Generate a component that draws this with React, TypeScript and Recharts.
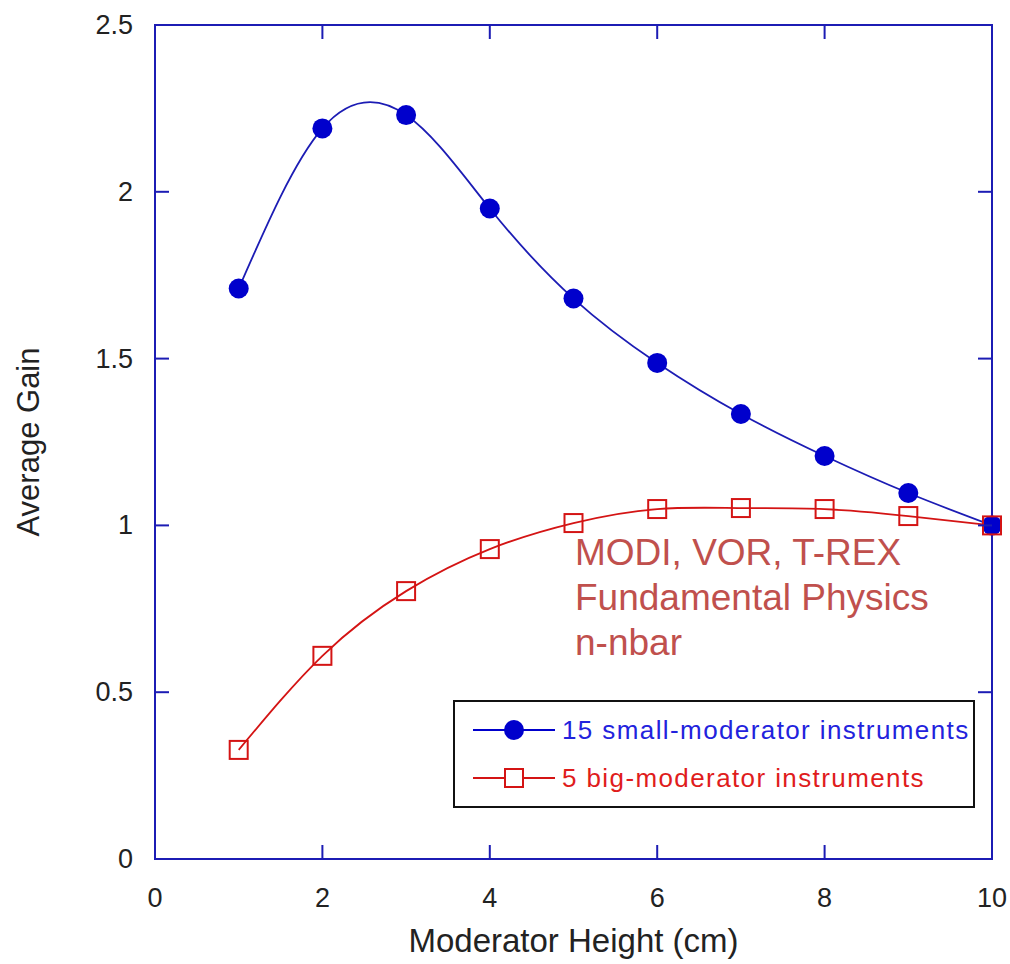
import React from 'react'
import { LineChart, Line, XAxis, YAxis, Legend, ReferenceArea } from 'recharts'

// Moderator height (cm)
const heights = [1, 2, 3, 4, 5, 6, 7, 8, 9, 10]
// Average gain, 15 small-moderator instruments
const smallModerator = [1.71, 2.19, 2.23, 1.95, 1.68, 1.487, 1.334, 1.208, 1.097, 1.0]
// Average gain, 5 big-moderator instruments
const bigModerator = [0.327, 0.609, 0.803, 0.929, 1.007, 1.049, 1.052, 1.049, 1.028, 1.0]

const xTicks = [0, 2, 4, 6, 8, 10]
const yTicks = [0, 0.5, 1, 1.5, 2, 2.5]
const annotation = ['MODI, VOR, T-REX', 'Fundamental Physics', 'n-nbar']

const FONT = '"Liberation Sans", Arial, Helvetica, sans-serif'
const FRAME = '#1c1cb4'
const BLUE = '#0000cc'
const RED = '#d41414'

// chart layout
const W = 1010
const H = 964
const PLOT_LEFT = 155
const PLOT_RIGHT = 992
const PLOT_TOP = 25
const PLOT_BOTTOM = 859
const TICK_LEN = 14
const X_TICK_GAP = 28
const Y_TICK_GAP = 22

const chartData = heights.map((h, i) => ({
  height: h,
  small: smallModerator[i],
  big: bigModerator[i],
}))

const legendItems = [
  { label: '15 small-moderator instruments', color: BLUE, textColor: '#2222dd', marker: 'circle' },
  { label: '5 big-moderator instruments', color: RED, textColor: '#e01c1c', marker: 'square' },
]

// bottom tick: label plus inward tick marks on bottom and top edges
const XTick = (props: any) => {
  const { x, y, payload } = props
  const inner = payload.value !== 0 && payload.value !== 10
  return (
    <g>
      {inner && <line x1={x} x2={x} y1={PLOT_BOTTOM} y2={PLOT_BOTTOM - TICK_LEN} stroke={FRAME} strokeWidth={2} />}
      {inner && <line x1={x} x2={x} y1={PLOT_TOP} y2={PLOT_TOP + TICK_LEN} stroke={FRAME} strokeWidth={2} />}
      <text x={x} y={y} dy={20} textAnchor="middle" fill="#222" fontSize={27} fontFamily={FONT}>
        {payload.value}
      </text>
    </g>
  )
}

// left tick: label plus inward tick marks on left and right edges
const YTick = (props: any) => {
  const { x, y, payload } = props
  const inner = payload.value !== 0 && payload.value !== 2.5
  return (
    <g>
      {inner && <line x1={PLOT_LEFT} x2={PLOT_LEFT + TICK_LEN} y1={y} y2={y} stroke={FRAME} strokeWidth={2} />}
      {inner && <line x1={PLOT_RIGHT} x2={PLOT_RIGHT - TICK_LEN} y1={y} y2={y} stroke={FRAME} strokeWidth={2} />}
      <text x={x} y={y} dy={9} textAnchor="end" fill="#222" fontSize={27} fontFamily={FONT}>
        {payload.value}
      </text>
    </g>
  )
}

const SquareDot = (props: any) => {
  const { cx, cy } = props
  if (cx == null || cy == null) return null
  return <rect x={cx - 9} y={cy - 9} width={18} height={18} fill="none" stroke={RED} strokeWidth={2} />
}

const renderLegend = () => (
  <div
    style={{
      border: '2px solid #111',
      background: '#fff',
      boxSizing: 'border-box',
      width: 522,
      height: 108,
      padding: '4px 0 0 18px',
      fontFamily: FONT,
    }}
  >
    {legendItems.map(item => (
      <div key={item.label} style={{ display: 'flex', alignItems: 'center', height: 48 }}>
        <svg width={82} height={24} style={{ flex: 'none' }}>
          <line x1={0} y1={12} x2={82} y2={12} stroke={item.color} strokeWidth={2} />
          {item.marker === 'circle' ? (
            <circle cx={41} cy={12} r={10} fill={item.color} />
          ) : (
            <rect x={32} y={3} width={18} height={18} fill="#fff" stroke={item.color} strokeWidth={2} />
          )}
        </svg>
        <span style={{ color: item.textColor, fontSize: 26, marginLeft: 7, letterSpacing: 1.4 }}>{item.label}</span>
      </div>
    ))}
  </div>
)

const App: React.FC = () => {
  return (
    <div style={{ position: 'absolute', left: 0, top: 0, width: W, height: H, background: '#fff', fontFamily: FONT }}>
      <LineChart
        width={W}
        height={H}
        data={chartData}
        margin={{ top: PLOT_TOP, right: W - PLOT_RIGHT, left: 0, bottom: 0 }}
      >
        <XAxis
          dataKey="height"
          type="number"
          domain={[0, 10]}
          ticks={xTicks}
          height={H - PLOT_BOTTOM}
          stroke={FRAME}
          strokeWidth={2}
          tickLine={false}
          tickSize={0}
          tickMargin={X_TICK_GAP}
          tick={<XTick />}
          label={{ value: 'Moderator Height (cm)', position: 'insideBottom', offset: 12, fill: '#222', fontSize: 33, fontFamily: FONT }}
        />
        <YAxis
          type="number"
          domain={[0, 2.5]}
          ticks={yTicks}
          width={PLOT_LEFT}
          stroke={FRAME}
          strokeWidth={2}
          tickLine={false}
          tickSize={0}
          tickMargin={Y_TICK_GAP}
          tick={<YTick />}
          label={{ value: 'Average Gain', angle: -90, position: 'insideLeft', offset: 28, fill: '#222', fontSize: 31, fontFamily: FONT, style: { textAnchor: 'middle' } }}
        />
        <ReferenceArea x1={0} x2={10} y1={0} y2={2.5} fill="none" stroke={FRAME} strokeWidth={2} fillOpacity={0} />
        <Legend
          layout="horizontal"
          verticalAlign="middle"
          align="center"
          content={renderLegend}
          wrapperStyle={{ left: 453, top: 700, width: 522, height: 108 }}
        />
        <Line
          type="natural"
          dataKey="small"
          stroke={FRAME}
          strokeWidth={1.8}
          dot={{ r: 10, fill: BLUE, stroke: BLUE, strokeWidth: 0 }}
          activeDot={false}
          isAnimationActive={false}
        />
        <Line
          type="natural"
          dataKey="big"
          stroke={RED}
          strokeWidth={1.8}
          dot={<SquareDot />}
          activeDot={false}
          isAnimationActive={false}
        />
      </LineChart>
      <div
        style={{
          position: 'absolute',
          left: 575,
          top: 530,
          color: '#c0504d',
          fontSize: 37,
          lineHeight: '45px',
          fontFamily: FONT,
          whiteSpace: 'nowrap',
        }}
      >
        {annotation.map(line => (
          <div key={line}>{line}</div>
        ))}
      </div>
    </div>
  )
}

export default App
